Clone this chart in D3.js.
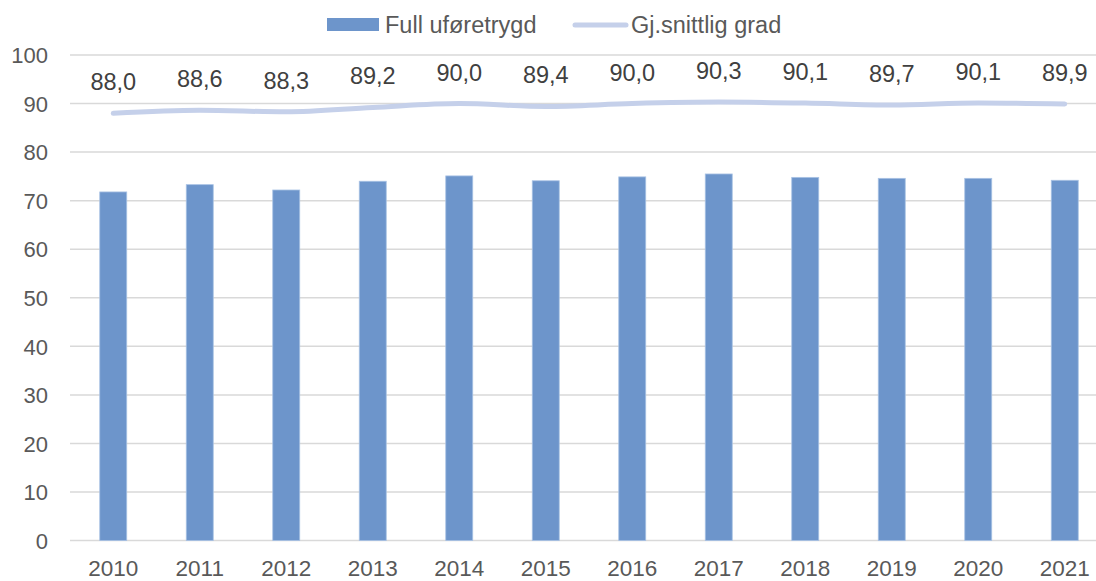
<!DOCTYPE html>
<html><head><meta charset="utf-8">
<script src="https://cdn.jsdelivr.net/npm/d3@7"></script>
<style>body{margin:0;background:#fff;overflow:hidden}svg{display:block;font-family:"Liberation Sans",Arial,sans-serif}</style>
</head><body><svg id="c" width="1096" height="581"></svg>
<script>
const years = ["2010","2011","2012","2013","2014","2015","2016","2017","2018","2019","2020","2021"];
const fullUfore = [71.8,73.3,72.2,74.0,75.1,74.1,74.9,75.5,74.8,74.6,74.6,74.2];
const snittGrad = [88.0,88.6,88.3,89.2,90.0,89.4,90.0,90.3,90.1,89.7,90.1,89.9];
const yTicks = [0,10,20,30,40,50,60,70,80,90,100];
const seriesNames = ["Full uføretrygd","Gj.snittlig grad"];

const svg = d3.select("#c");
const W = 1096, H = 581;
// plot area extends slightly past the right edge of the picture (cropped like the reference)
const plotLeft = 70, plotRight = 1108, plotTop = 55, plotBottom = 540.6;
const x = d3.scaleBand().domain(years).range([plotLeft, plotRight]).paddingInner(0.688).paddingOuter(0.344);
const y = d3.scaleLinear().domain([0,100]).range([plotBottom, plotTop]);
const txt = "#595959";

// gridlines
svg.append("g").selectAll("line").data(yTicks).join("line")
  .attr("x1", plotLeft).attr("x2", plotRight)
  .attr("y1", d => y(d)).attr("y2", d => y(d))
  .attr("stroke", "#d9d9d9").attr("stroke-width", 1.5);

// y axis labels
const ya = svg.append("g").attr("transform", `translate(${plotLeft - 22},0)`)
  .call(d3.axisLeft(y).tickValues(yTicks).tickSize(0).tickPadding(0));
ya.select(".domain").remove();
ya.selectAll("text").attr("fill", txt).style("font-size", "22px").attr("font-family", "Liberation Sans, Arial, sans-serif").attr("dy", "0.35em");

// x axis labels
const xa = svg.append("g").attr("transform", `translate(0,${plotBottom})`)
  .call(d3.axisBottom(x).tickSize(0).tickPadding(19.5));
xa.select(".domain").remove();
xa.selectAll("text").attr("fill", txt).style("font-size", "22.5px").attr("font-family", "Liberation Sans, Arial, sans-serif");

// bars
svg.append("g").selectAll("rect").data(years).join("rect")
  .attr("x", d => x(d)).attr("width", x.bandwidth())
  .attr("y", (d,i) => y(fullUfore[i])).attr("height", (d,i) => y(0) - y(fullUfore[i]))
  .attr("fill", "#6d95cb").attr("stroke", "#a9c2e4").attr("stroke-width", 0.8);

// line
const cx = d => x(d) + x.bandwidth()/2;
const line = d3.line().x((d,i) => cx(years[i])).y(d => y(d)).curve(d3.curveMonotoneX);
svg.append("path").datum(snittGrad).attr("d", line)
  .attr("fill", "none").attr("stroke", "#c5d0ea").attr("stroke-width", 5).attr("stroke-linecap", "round");

// data labels
svg.append("g").selectAll("text").data(snittGrad).join("text")
  .attr("x", (d,i) => cx(years[i])).attr("y", d => y(d) - 23)
  .attr("text-anchor", "middle").attr("fill", "#404040").style("font-size", "23.5px")
  .text(d => d.toFixed(1).replace(".", ","));

// legend
const lg = svg.append("g");
lg.append("rect").attr("x", 327).attr("y", 18).attr("width", 52).attr("height", 13).attr("fill", "#6d95cb");
lg.append("text").attr("x", 385).attr("y", 33).attr("fill", txt).style("font-size", "23.5px").text(seriesNames[0]);
lg.append("line").attr("x1", 575).attr("x2", 626).attr("y1", 25).attr("y2", 25)
  .attr("stroke", "#c5d0ea").attr("stroke-width", 5).attr("stroke-linecap", "round");
lg.append("text").attr("x", 631).attr("y", 33).attr("fill", txt).style("font-size", "23.5px").text(seriesNames[1]);
</script></body></html>
